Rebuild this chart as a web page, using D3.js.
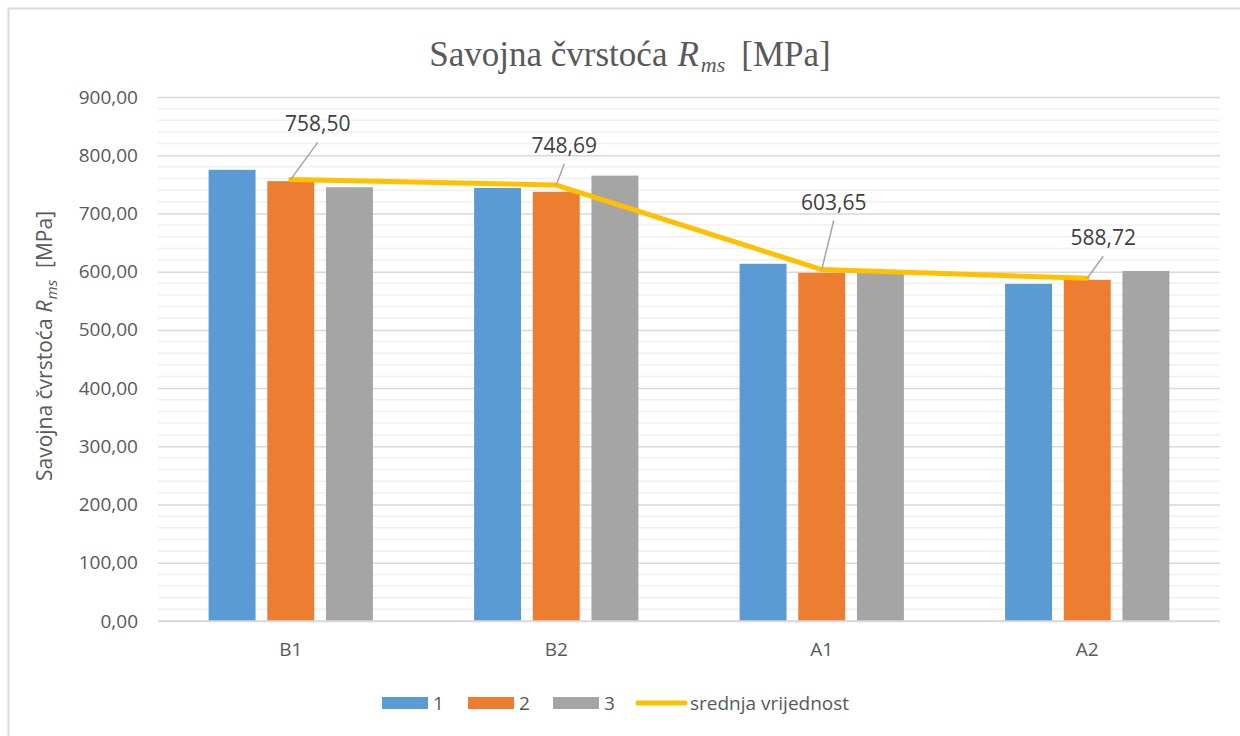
<!DOCTYPE html>
<html>
<head>
<meta charset="utf-8">
<script src="https://cdn.jsdelivr.net/npm/d3@7"></script>
<style>
  html, body { margin: 0; padding: 0; background: #ffffff; }
  svg { display: block; }
</style>
</head>
<body>
<svg id="chart" width="1240" height="736"></svg>
<script>
// Flexural strength per sample group, three specimens each, plus the group mean
const categories = ["B1", "B2", "A1", "A2"];
const seriesNames = ["1", "2", "3"];
const specimen1 = [775.0, 743.9, 613.5, 579.0];
const specimen2 = [755.5, 737.2, 598.0, 586.0];
const specimen3 = [745.0, 764.97, 599.45, 601.16];
const meanValues = [758.50, 748.69, 603.65, 588.72];
const meanName = "srednja vrijednost";
const yTicks = [0, 100, 200, 300, 400, 500, 600, 700, 800, 900];

const seriesColors = ["#5B9BD5", "#ED7D31", "#A5A5A5"];
const meanColor = "#FFC000";
const textColor = "#595959";

// label placement relative to each mean point (dx, dy to label baseline)
const labelOffsets = [[27, -48], [8, -32], [12, -60], [16, -33]];

const svg = d3.select("#chart");
const W = 1240, H = 736;
const plot = { left: 158, right: 1220, top: 97, bottom: 621 };

svg.append("rect").attr("width", W).attr("height", H).attr("fill", "#fff");

// outer chart frame (top and left edges)
svg.append("path")
  .attr("d", `M8.5,${H} L8.5,8.5 L${W},8.5`)
  .attr("fill", "none").attr("stroke", "#d9d9d9").attr("stroke-width", 2);

const y = d3.scaleLinear().domain([0, 900]).range([plot.bottom, plot.top]);
const x0 = d3.scaleBand().domain(categories).range([plot.left, plot.right]).paddingInner(0).paddingOuter(0);
const groupPad = 50.6;
const x1 = d3.scaleBand().domain(seriesNames)
  .range([groupPad, x0.bandwidth() - groupPad]).paddingInner(0.2).paddingOuter(0);

// minor gridlines every 20
const minor = d3.range(0, 901, 20).filter(v => v % 100 !== 0);
svg.append("g").selectAll("line").data(minor).join("line")
  .attr("x1", plot.left).attr("x2", plot.right)
  .attr("y1", d => y(d)).attr("y2", d => y(d))
  .attr("stroke", "#f0f0f0").attr("stroke-width", 1.5);

// major gridlines and tick labels via axis
const yAxis = d3.axisLeft(y).tickValues(yTicks)
  .tickSize(-(plot.right - plot.left)).tickPadding(20)
  .tickFormat(d => d3.format(".2f")(d).replace(".", ","));
const gy = svg.append("g").attr("transform", `translate(${plot.left},0)`).call(yAxis);
gy.select(".domain").remove();
gy.selectAll(".tick line").attr("stroke", "#d9d9d9").attr("stroke-width", 1.5);
gy.selectAll(".tick text")
  .attr("fill", textColor).attr("font-family", "'Open Sans', sans-serif").attr("font-size", 19);

// bars
const table = categories.map((c, i) => ({
  cat: c, values: [specimen1[i], specimen2[i], specimen3[i]]
}));
const groups = svg.append("g").selectAll("g").data(table).join("g")
  .attr("transform", d => `translate(${x0(d.cat)},0)`);
groups.selectAll("rect").data(d => d.values.map((v, k) => ({ k, v }))).join("rect")
  .attr("x", d => x1(seriesNames[d.k]))
  .attr("width", x1.bandwidth())
  .attr("y", d => y(d.v))
  .attr("height", d => y(0) - y(d.v))
  .attr("fill", d => seriesColors[d.k]);

// baseline
svg.append("line").attr("x1", plot.left).attr("x2", plot.right)
  .attr("y1", y(0)).attr("y2", y(0)).attr("stroke", "#d9d9d9").attr("stroke-width", 1.5);

// x-axis category labels
const xAxis = d3.axisBottom(x0).tickSize(0).tickPadding(22);
const gx = svg.append("g").attr("transform", `translate(0,${plot.bottom})`).call(xAxis);
gx.select(".domain").remove();
gx.selectAll(".tick text")
  .attr("fill", textColor).attr("font-family", "'Open Sans', sans-serif").attr("font-size", 19);

// mean line
const cx = c => x0(c) + x0.bandwidth() / 2;
const line = d3.line().x((d, i) => cx(categories[i])).y(d => y(d));
svg.append("path").datum(meanValues)
  .attr("d", line)
  .attr("fill", "none").attr("stroke", meanColor).attr("stroke-width", 5)
  .attr("stroke-linejoin", "round").attr("stroke-linecap", "round");

// mean labels with leader lines
const labels = svg.append("g");
meanValues.forEach((v, i) => {
  const px = cx(categories[i]), py = y(v);
  const lx = px + labelOffsets[i][0], ly = py + labelOffsets[i][1];
  labels.append("line")
    .attr("x1", lx).attr("y1", ly + 11).attr("x2", px).attr("y2", py)
    .attr("stroke", "#a6a6a6").attr("stroke-width", 1.5);
  labels.append("text")
    .attr("x", lx).attr("y", ly).attr("text-anchor", "middle")
    .attr("fill", "#404040").attr("font-family", "'Open Sans', sans-serif").attr("font-size", 21)
    .text(d3.format(".2f")(v).replace(".", ","));
});

// chart title
const title = svg.append("text")
  .attr("x", 630).attr("y", 66).attr("text-anchor", "middle")
  .attr("fill", textColor).attr("font-family", "'Liberation Serif', 'DejaVu Serif', serif")
  .attr("font-size", 35);
title.append("tspan").text("Savojna čvrstoća");
title.append("tspan").attr("font-style", "italic").attr("dx", 10).text("R");
title.append("tspan").attr("font-style", "italic").attr("font-size", 22).attr("dx", 2).attr("dy", 6).text("ms");
title.append("tspan").attr("dx", 16).attr("dy", -6).text("[MPa]");

// y-axis title
const yt = svg.append("text")
  .attr("transform", `translate(52,346) rotate(-90)`)
  .attr("text-anchor", "middle")
  .attr("fill", textColor).attr("font-family", "'Open Sans', sans-serif").attr("font-size", 21);
yt.append("tspan").text("Savojna čvrstoća");
yt.append("tspan").attr("font-style", "italic").attr("dx", 6).text("R");
yt.append("tspan").attr("font-style", "italic").attr("font-size", 15).attr("dx", 1).attr("dy", 5).text("ms");
yt.append("tspan").attr("dx", 12).attr("dy", -5).text("[MPa]");

// legend
const legend = svg.append("g").attr("transform", "translate(0,703)");
const legendItems = [
  { name: seriesNames[0], color: seriesColors[0], type: "bar", x: 382 },
  { name: seriesNames[1], color: seriesColors[1], type: "bar", x: 468 },
  { name: seriesNames[2], color: seriesColors[2], type: "bar", x: 553 },
  { name: meanName, color: meanColor, type: "line", x: 638 }
];
legendItems.forEach(it => {
  if (it.type === "bar") {
    legend.append("rect").attr("x", it.x).attr("y", -6).attr("width", 46).attr("height", 12).attr("fill", it.color);
    legend.append("text").attr("x", it.x + 51).attr("y", 7)
      .attr("fill", textColor).attr("font-family", "'Open Sans', sans-serif").attr("font-size", 19).text(it.name);
  } else {
    legend.append("line").attr("x1", it.x).attr("x2", it.x + 47).attr("y1", 0).attr("y2", 0)
      .attr("stroke", it.color).attr("stroke-width", 5).attr("stroke-linecap", "round");
    legend.append("text").attr("x", it.x + 52).attr("y", 7)
      .attr("fill", textColor).attr("font-family", "'Open Sans', sans-serif").attr("font-size", 19).text(it.name);
  }
});
</script>
</body>
</html>
